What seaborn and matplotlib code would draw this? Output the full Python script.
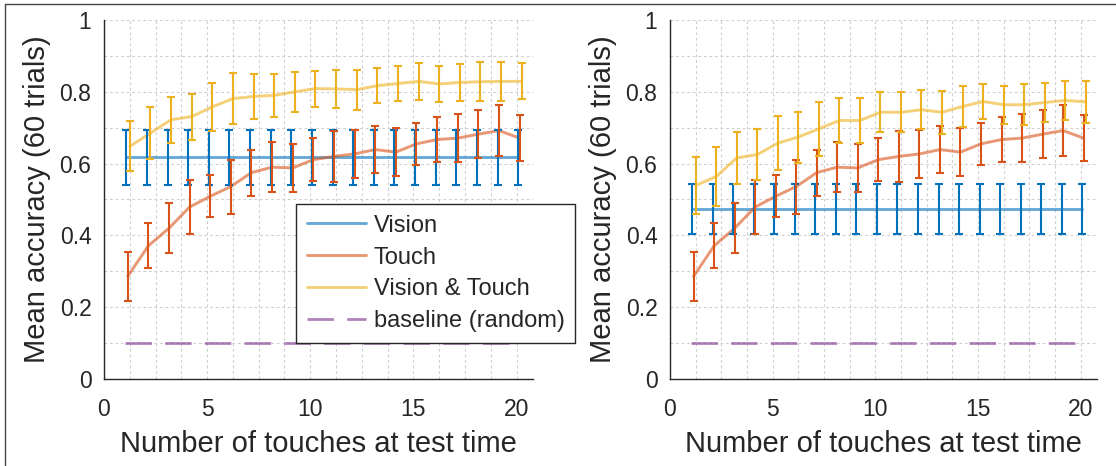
import numpy as np
import pandas as pd
import matplotlib
matplotlib.use("Agg")
import matplotlib.pyplot as plt
import seaborn as sns
from matplotlib.ticker import MultipleLocator
from matplotlib.lines import Line2D

# number of touches at test time
touches = list(range(1, 21))

# Touch only (same in both panels)
touch = [0.286, 0.371, 0.420, 0.479, 0.509, 0.536, 0.575, 0.590, 0.588, 0.611,
         0.620, 0.627, 0.639, 0.632, 0.655, 0.667, 0.671, 0.682, 0.692, 0.671]
touch_err = [0.069, 0.063, 0.069, 0.075, 0.058, 0.075, 0.064, 0.070, 0.067, 0.060,
             0.070, 0.066, 0.065, 0.066, 0.058, 0.062, 0.067, 0.066, 0.070, 0.063]

# left panel
vision_left = [0.617] * 20
vision_left_err = [0.077] * 20
vt_left = [0.648, 0.685, 0.722, 0.731, 0.758, 0.781, 0.787, 0.790, 0.800, 0.809,
           0.808, 0.806, 0.817, 0.823, 0.829, 0.822, 0.826, 0.828, 0.829, 0.829]
vt_left_err = [0.070, 0.072, 0.064, 0.064, 0.067, 0.070, 0.062, 0.060, 0.056, 0.050,
               0.054, 0.056, 0.049, 0.050, 0.052, 0.050, 0.052, 0.055, 0.054, 0.050]

# right panel
vision_right = [0.474] * 20
vision_right_err = [0.069] * 20
vt_right = [0.539, 0.564, 0.616, 0.625, 0.657, 0.674, 0.697, 0.720, 0.720, 0.743,
            0.743, 0.750, 0.743, 0.759, 0.773, 0.764, 0.764, 0.770, 0.776, 0.772]
vt_right_err = [0.078, 0.083, 0.072, 0.071, 0.075, 0.071, 0.075, 0.063, 0.062, 0.056,
                0.056, 0.054, 0.060, 0.057, 0.050, 0.053, 0.057, 0.054, 0.055, 0.059]

baseline = [0.1] * 20

x_ticks = [0, 5, 10, 15, 20]
y_ticks = [0, 0.2, 0.4, 0.6, 0.8, 1]
y_tick_labels = ["0", "0.2", "0.4", "0.6", "0.8", "1"]

blue = "#0072BD"
red = "#D95319"
yellow = "#EDB120"
purple = "#7E2F8E"
txt = "#262626"

sns.set_style("white")
plt.rcParams["font.family"] = ["Liberation Sans", "DejaVu Sans"]

fig = plt.figure(figsize=(11.16, 4.66), dpi=100)
W, H = 1116, 466
ax1 = fig.add_axes([104 / W, (H - 379) / H, (533 - 104) / W, (379 - 20) / H])
ax2 = fig.add_axes([670 / W, (H - 379) / H, (1097 - 670) / W, (379 - 20) / H])


def draw_panel(ax, vision, vision_err, vt, vt_err):
    x = np.array(touches, dtype=float)
    series = [("Vision", vision, vision_err, blue, 0.08),
              ("Touch", touch, touch_err, red, 0.15),
              ("Vision & Touch", vt, vt_err, yellow, 0.25)]
    for name, y, err, col, dx in series:
        sns.lineplot(x=x + dx, y=y, ax=ax, color=col, lw=2.1, alpha=0.6,
                     label=name, zorder=3)
    for name, y, err, col, dx in series:
        ax.errorbar(x + dx, y, yerr=err, fmt="none", ecolor=col, elinewidth=1.5,
                    capsize=2.8, capthick=1.5, zorder=4)
    sns.lineplot(x=x, y=baseline, ax=ax, color=purple, lw=2.0, alpha=0.6,
                 label="baseline (random)", zorder=3)
    ax.lines[-1].set_dashes((9.5, 4.8))

    if ax.get_legend() is not None:
        ax.get_legend().remove()

    ax.set_xlim(0, 20.8)
    ax.set_ylim(0, 1)
    ax.set_xticks(x_ticks)
    ax.set_xticklabels([str(t) for t in x_ticks])
    ax.set_yticks(y_ticks)
    ax.set_yticklabels(y_tick_labels)
    ax.xaxis.set_minor_locator(MultipleLocator(1.25))
    ax.yaxis.set_minor_locator(MultipleLocator(0.1))
    ax.grid(which="both", color="#cfcfcf", linestyle=(0, (2.5, 2.5)), lw=0.8)
    ax.set_axisbelow(True)
    ax.tick_params(which="major", direction="in", length=4, width=1, color=txt,
                   labelsize=16.5, labelcolor=txt)
    ax.tick_params(axis="x", which="major", pad=14)
    ax.tick_params(axis="y", which="major", pad=9)
    ax.tick_params(which="minor", length=0)
    for s in ["top", "right"]:
        ax.spines[s].set_visible(False)
    for s in ["left", "bottom"]:
        ax.spines[s].set_color(txt)
        ax.spines[s].set_linewidth(1)
    ax.set_xlabel("Number of touches at test time", fontsize=21, color=txt, labelpad=6)
    ax.set_ylabel("Mean accuracy (60 trials)", fontsize=21, color=txt, labelpad=6)


draw_panel(ax1, vision_left, vision_left_err, vt_left, vt_left_err)
draw_panel(ax2, vision_right, vision_right_err, vt_right, vt_right_err)

# legend inside the left panel
handles = ax1.lines[:3] + [ax1.lines[-1]]
leg = ax1.legend(handles, ["Vision", "Touch", "Vision & Touch", "baseline (random)"],
                 loc="upper left", bbox_to_anchor=(296 / W, 1 - 204 / H),
                 bbox_transform=fig.transFigure, borderaxespad=0, fontsize=17,
                 handlelength=2.5, handletextpad=0.35, labelspacing=0.42,
                 borderpad=0.45, fancybox=False, framealpha=1, frameon=True)
leg.get_frame().set_edgecolor(txt)
leg.get_frame().set_linewidth(1)
for t in leg.get_texts():
    t.set_color(txt)
leg.set_zorder(10)

# thin frame along the left and top edge of the picture
fig.add_artist(Line2D([5 / W, 5 / W], [0, 1 - 4 / H], transform=fig.transFigure,
                      color="#444444", lw=1))
fig.add_artist(Line2D([5 / W, 1], [1 - 4 / H, 1 - 4 / H], transform=fig.transFigure,
                      color="#444444", lw=1))

fig.savefig("out.png", dpi=100)
